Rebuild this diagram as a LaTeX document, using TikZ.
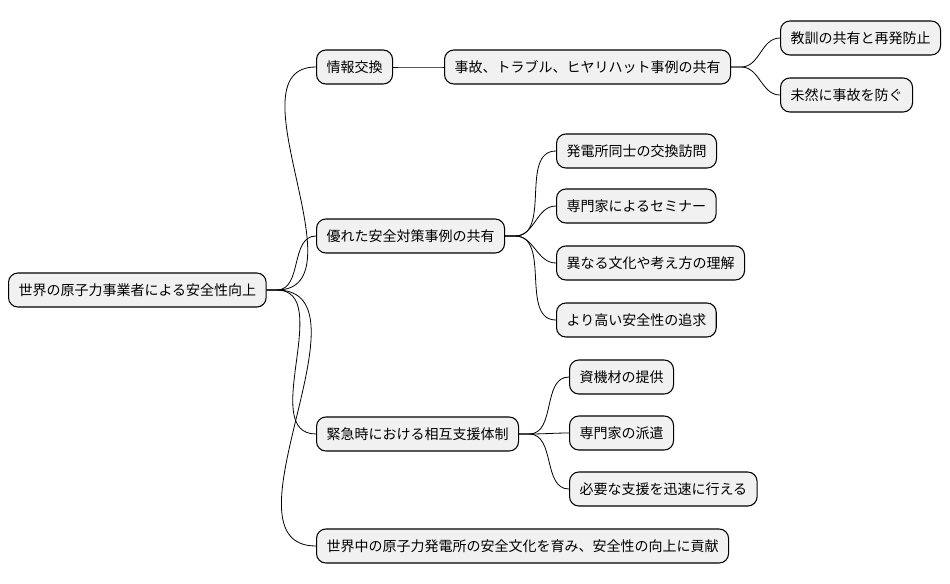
\documentclass[tikz,border=0pt]{standalone}
\usepackage{fontspec}
\newfontfamily\cjk{Noto Sans CJK JP}
\definecolor{boxgray}{HTML}{F1F1F1}
\tikzstyle{topic}=[draw=black,fill=boxgray,rounded corners=7pt,minimum height=25.5pt,inner xsep=7.5pt,font=\cjk\fontsize{10.5pt}{12pt}\selectfont,anchor=west,line width=0.8pt]
\tikzstyle{branch}=[draw,line width=0.6pt]

\begin{document}
\begin{tikzpicture}[x=0.75pt,y=-0.75pt]
    \useasboundingbox (0,0) rectangle (950,583);
    % root and first level
    \node[topic] (root) at (8,290) {世界の原子力事業者による安全性向上};
    \foreach \pos/\name/\txt in {{(316,67)/info/情報交換},{(316,236)/best/優れた安全対策事例の共有},
        {(316,434)/emer/緊急時における相互支援体制},{(316,546)/world/世界中の原子力発電所の安全文化を育み、安全性の向上に貢献}}
    \node[topic] (\name) at \pos {\txt};
    % second level
    \foreach \pos/\name/\txt in {{(444,67)/case/事故、トラブル、ヒヤリハット事例の共有},
        {(556,151)/visit/発電所同士の交換訪問},{(556,206)/semi/専門家によるセミナー},
        {(556,263)/cult/異なる文化や考え方の理解},{(556,320)/high/より高い安全性の追求},
        {(569,377)/equip/資機材の提供},{(569,433)/disp/専門家の派遣},{(569,489)/quick/必要な支援を迅速に行える}}
    \node[topic] (\name) at \pos {\txt};
    % third level
    \foreach \pos/\name/\txt in {{(780,38)/lesson/教訓の共有と再発防止},{(780,95)/prev/未然に事故を防ぐ}}
    \node[topic] (\name) at \pos {\txt};
    % connect
    \foreach \source/\dest in {root/info,root/best,root/emer,root/world,
        info/case,case/lesson,case/prev,
        best/visit,best/semi,best/cult,best/high,
        emer/equip,emer/disp,emer/quick}
    \path[branch] (\source.east) -- ++(10,0) to[out=0,in=180] (\dest.west);
\end{tikzpicture}
\end{document}
